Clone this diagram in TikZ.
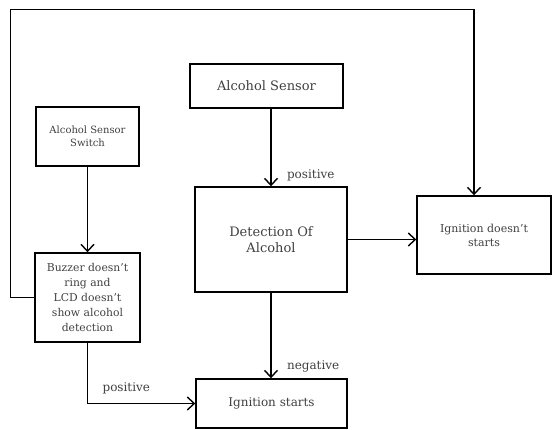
\documentclass[tikz,border=0pt]{standalone}
\usepackage{fontspec}
\setmainfont{DejaVu Serif}
\usetikzlibrary{arrows.meta, positioning}

\begin{document}
\begin{tikzpicture}[x=1pt, y=1pt,
    box/.style={draw, line width=1.4pt, inner sep=1pt, align=center, text=black!75},
    arr/.style={-{Straight Barb[length=7pt, width=13pt, line width=1.4pt]}, line width=1.4pt},
    lbl/.style={text=black!75, font=\fontsize{12}{14}\selectfont}]

\useasboundingbox (0,0) rectangle (552,429);

\node[box, minimum width=153pt, minimum height=44pt, font=\fontsize{13}{15}\selectfont] (sensor) at (266.5,343) {Alcohol Sensor};

\node[box, minimum width=103pt, minimum height=59pt, font=\fontsize{10}{13}\selectfont] (switch) at (87.5,292.5) {Alcohol Sensor\\Switch};

\node[box, minimum width=152pt, minimum height=105pt, font=\fontsize{13}{16}\selectfont] (detect) at (271,189.5) {Detection Of\\Alcohol};

\node[box, minimum width=134pt, minimum height=78pt, font=\fontsize{11}{14}\selectfont] (nostart) at (484,194) {Ignition doesn't\\starts};

\node[box, minimum width=105pt, minimum height=89pt, font=\fontsize{10.8}{15}\selectfont] (buzzer) at (87.5,131.5) {Buzzer doesn't\\ring and\\LCD doesn't\\show alcohol\\detection};

\node[box, minimum width=151pt, minimum height=49pt, font=\fontsize{12}{14}\selectfont] (start) at (271.5,25.5) {Ignition starts};

\coordinate (top) at (474,419.5);

\draw[arr] (sensor.south -| detect) -- (detect.north) node[lbl, above right=1pt and 12pt] {positive};

\draw[arr] (switch) -- (buzzer);

\draw[arr] (detect.east) -- (detect.east -| nostart.west);

\draw[arr] (detect.south) -- (detect.south |- start.north) node[lbl, pos=0.86, right=12pt] {negative};

\draw[arr] (buzzer.south) |- (start.west) node[lbl, pos=0.68, above=5pt] {positive};

\draw[arr] (buzzer.west) -- ++(-24,0) |- (top) -- (top |- nostart.north);

\end{tikzpicture}
\end{document}
